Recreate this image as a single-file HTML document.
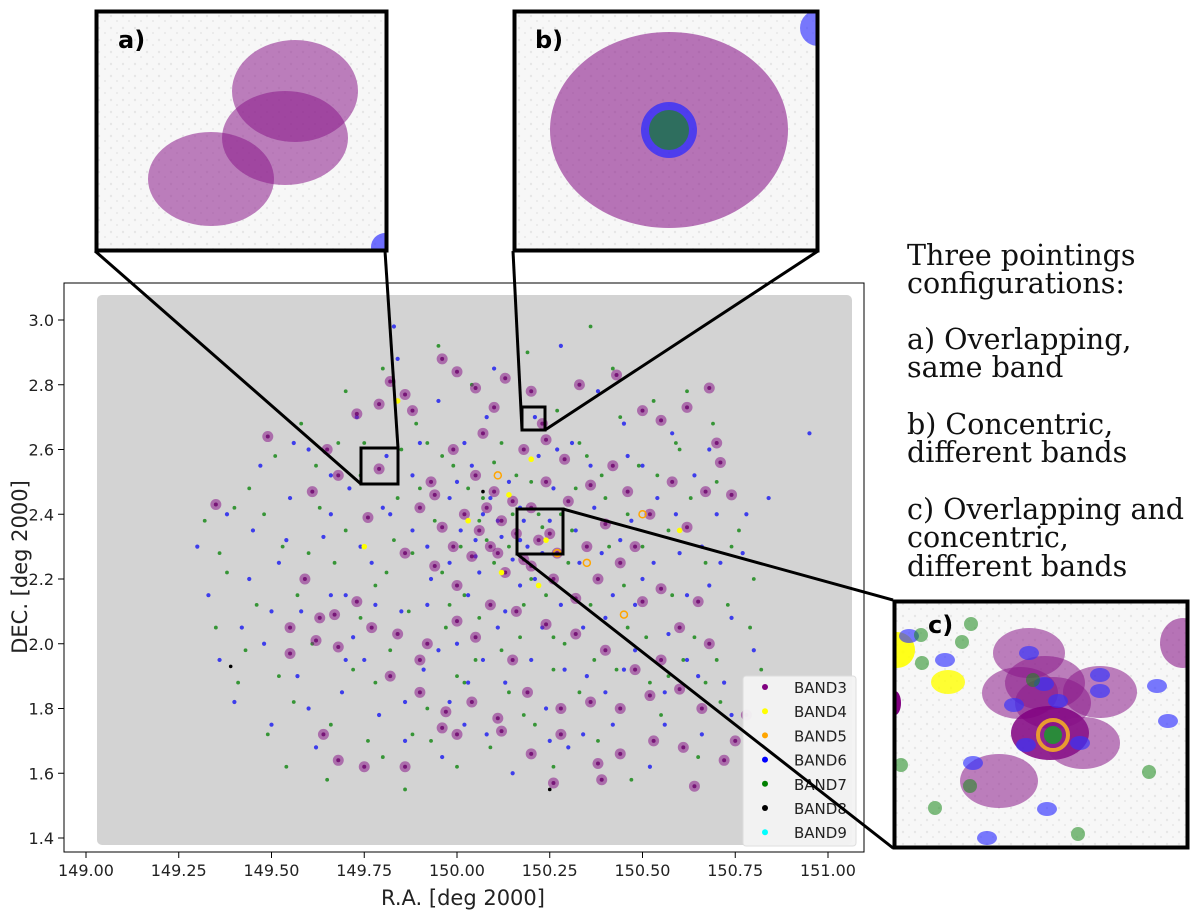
<!DOCTYPE html>
<html><head><meta charset="utf-8"><style>
html,body{margin:0;padding:0;background:#fff}
svg{display:block}
text{font-family:"DejaVu Sans","Liberation Sans",sans-serif}
.serif{font-family:"DejaVu Serif","Liberation Serif",serif;font-size:28.5px;fill:#111}
</style></head><body>
<svg id="fig" width="1200" height="917" viewBox="0 0 1200 917" xmlns="http://www.w3.org/2000/svg">
<defs>
<pattern id="noise" width="12" height="12" patternUnits="userSpaceOnUse">
<rect width="12" height="12" fill="#f7f7f7"/><circle cx="3" cy="4" r="1.2" fill="#e6e6e6"/><circle cx="9" cy="9" r="1" fill="#e8e8e8"/>
</pattern>
<clipPath id="clipA"><rect x="97" y="12" width="288" height="237"/></clipPath>
<clipPath id="clipB"><rect x="515" y="12" width="301" height="237"/></clipPath>
<clipPath id="clipC"><rect x="895" y="602" width="291" height="244"/></clipPath>
</defs>
<rect x="64" y="283" width="800" height="569" fill="#fff" stroke="#000" stroke-width="1"/>
<rect x="97" y="295" width="755" height="550" rx="5" fill="#d3d3d3"/>
<g id="points"></g>
<g id="axes"></g>
<text x="463" y="905" text-anchor="middle" font-size="21" fill="#222">R.A. [deg 2000]</text>
<text transform="translate(27,567) rotate(-90)" text-anchor="middle" font-size="21" fill="#222">DEC. [deg 2000]</text>

<g>
<rect x="743" y="676" width="113" height="170" rx="3" fill="#f4f4f4" stroke="#ddd" opacity="0.95"/>
<g id="legend-items"></g>
</g>

<g stroke="#000" stroke-width="3" fill="none">
<rect x="361" y="448" width="37" height="36"/>
<line x1="95" y1="251" x2="361" y2="484"/><line x1="385" y1="251" x2="398" y2="448"/>
<rect x="522" y="407" width="23" height="23"/>
<line x1="513" y1="251" x2="522" y2="430"/><line x1="818" y1="251" x2="545" y2="430"/>
<rect x="517" y="509" width="46" height="45"/>
<line x1="563" y1="509" x2="893" y2="600"/><line x1="517" y1="554" x2="893" y2="848"/>
</g>

<g>
<rect x="97" y="12" width="288" height="237" fill="url(#noise)"/>
<g clip-path="url(#clipA)">
<ellipse cx="295" cy="91" rx="63" ry="51" fill="#8b1a8b" opacity="0.55"/>
<ellipse cx="285" cy="138" rx="63" ry="47" fill="#8b1a8b" opacity="0.55"/>
<ellipse cx="211" cy="179" rx="63" ry="47" fill="#8b1a8b" opacity="0.55"/>
<circle cx="385" cy="247" r="14" fill="#3333ff" opacity="0.7"/>
</g>
<rect x="96.5" y="11.5" width="290" height="239" fill="none" stroke="#000" stroke-width="4"/>
<text x="118" y="48" font-size="24" font-weight="bold" fill="#000">a)</text>
</g>
<g>
<rect x="515" y="12" width="301" height="237" fill="url(#noise)"/>
<g clip-path="url(#clipB)">
<ellipse cx="669" cy="130" rx="119" ry="98" fill="#8b1a8b" opacity="0.6"/>
<circle cx="669" cy="130" r="28" fill="#2b2bff" opacity="0.75"/>
<circle cx="669" cy="130" r="20" fill="#2e6e5e"/>
<circle cx="818" cy="28" r="18" fill="#3333ff" opacity="0.65"/>
</g>
<rect x="514.5" y="11.5" width="303" height="239" fill="none" stroke="#000" stroke-width="4"/>
<text x="535" y="48" font-size="24" font-weight="bold" fill="#000">b)</text>
</g>
<g>
<rect x="895" y="602" width="291" height="244" fill="url(#noise)"/>
<g clip-path="url(#clipC)">
<circle cx="897" cy="650" r="18" fill="#ffff00" opacity="0.9"/>
<ellipse cx="948" cy="682" rx="17" ry="12" fill="#ffff00" opacity="0.8"/>
<ellipse cx="1029" cy="653" rx="36" ry="25" fill="#8b1a8b" opacity="0.55"/>
<ellipse cx="1045" cy="683" rx="40" ry="27" fill="#8b1a8b" opacity="0.55"/>
<ellipse cx="1020" cy="693" rx="38" ry="26" fill="#8b1a8b" opacity="0.55"/>
<ellipse cx="1100" cy="692" rx="37" ry="26" fill="#8b1a8b" opacity="0.55"/>
<ellipse cx="1053" cy="703" rx="38" ry="26" fill="#8b1a8b" opacity="0.55"/>
<ellipse cx="1050" cy="733" rx="39" ry="27" fill="#800080" opacity="0.85"/>
<ellipse cx="1083" cy="743" rx="37" ry="26" fill="#8b1a8b" opacity="0.55"/>
<ellipse cx="999" cy="781" rx="39" ry="27" fill="#8b1a8b" opacity="0.55"/>
<ellipse cx="1183" cy="643" rx="23" ry="25" fill="#8b1a8b" opacity="0.6"/>
<ellipse cx="895" cy="703" rx="6" ry="12" fill="#800080"/>
<circle cx="1053" cy="735" r="15" fill="none" stroke="#e89b30" stroke-width="4"/>
<circle cx="1053" cy="735" r="9" fill="#2a8a3a"/>
<g fill="#3333ff" opacity="0.65">
<ellipse cx="909" cy="636" rx="10" ry="7"/><ellipse cx="945" cy="660" rx="10" ry="7"/>
<ellipse cx="1029" cy="653" rx="10" ry="7"/><ellipse cx="1044" cy="684" rx="10" ry="7"/>
<ellipse cx="1100" cy="675" rx="10" ry="7"/><ellipse cx="1100" cy="691" rx="10" ry="7"/>
<ellipse cx="1058" cy="701" rx="10" ry="7"/><ellipse cx="1014" cy="705" rx="10" ry="7"/>
<ellipse cx="1026" cy="745" rx="10" ry="7"/><ellipse cx="1080" cy="743" rx="10" ry="7"/>
<ellipse cx="1157" cy="686" rx="10" ry="7"/><ellipse cx="1168" cy="721" rx="10" ry="7"/>
<ellipse cx="973" cy="763" rx="10" ry="7"/><ellipse cx="1047" cy="809" rx="10" ry="7"/>
<ellipse cx="987" cy="838" rx="10" ry="7"/>
</g>
<g fill="#1a8a1a" opacity="0.55">
<circle cx="971" cy="624" r="7"/><circle cx="921" cy="635" r="7"/><circle cx="962" cy="642" r="7"/>
<circle cx="922" cy="663" r="7"/><circle cx="1033" cy="680" r="7"/><circle cx="1149" cy="772" r="7"/>
<circle cx="1078" cy="834" r="7"/><circle cx="901" cy="765" r="7"/><circle cx="935" cy="808" r="7"/>
<circle cx="970" cy="786" r="7"/>
</g>
</g>
<rect x="894.5" y="601.5" width="293" height="246" fill="none" stroke="#000" stroke-width="4"/>
<text x="928" y="633" font-size="24" font-weight="bold" fill="#000">c)</text>
</g>

<g>
<text class="serif" x="907" y="265">Three pointings</text>
<text class="serif" x="907" y="293">configurations:</text>
<text class="serif" x="907" y="349">a) Overlapping,</text>
<text class="serif" x="907" y="377">same band</text>
<text class="serif" x="907" y="434">b) Concentric,</text>
<text class="serif" x="907" y="462">different bands</text>
<text class="serif" x="907" y="519">c) Overlapping and</text>
<text class="serif" x="907" y="547">concentric,</text>
<text class="serif" x="907" y="576">different bands</text>
</g>
</svg>
<script>
const xTicks=[149.00,149.25,149.50,149.75,150.00,150.25,150.50,150.75,151.00];
const yTicks=[1.4,1.6,1.8,2.0,2.2,2.4,2.6,2.8,3.0];
const legendLabels=["BAND3","BAND4","BAND5","BAND6","BAND7","BAND8","BAND9"];
const legendColors=["#800080","#ffff00","#ffa500","#0000ff","#008000","#000000","#00ffff"];
const band3=[[149.35,2.43],[149.49,2.64],[149.59,2.20],[149.63,2.08],[149.55,2.05],[149.67,2.09],[149.73,2.13],[149.61,2.47],[149.68,2.52],[149.76,2.39],[149.79,2.54],[149.82,2.81],[149.86,2.77],[149.79,2.74],[149.73,2.71],[149.90,2.42],[149.93,2.50],[149.96,2.88],[150.00,2.84],[150.05,2.79],[150.10,2.73],[150.13,2.82],[150.20,2.78],[150.23,2.68],[150.33,2.80],[150.43,2.83],[150.50,2.72],[150.55,2.69],[150.62,2.73],[150.68,2.79],[150.70,2.62],[150.67,2.47],[150.71,2.56],[150.74,2.46],[150.52,2.40],[150.46,2.47],[150.42,2.55],[150.36,2.49],[150.29,2.57],[150.24,2.63],[150.18,2.60],[150.07,2.65],[149.99,2.60],[149.94,2.46],[150.02,2.40],[150.06,2.35],[150.09,2.30],[150.12,2.38],[150.15,2.44],[150.20,2.42],[150.25,2.34],[150.22,2.32],[150.18,2.26],[150.13,2.22],[150.04,2.27],[149.99,2.30],[150.35,2.30],[150.38,2.20],[150.44,2.25],[150.50,2.13],[150.55,2.17],[150.60,2.05],[150.65,2.13],[150.68,2.00],[150.55,1.95],[150.48,1.92],[150.40,1.98],[150.32,2.03],[150.24,2.06],[150.16,2.10],[150.09,2.12],[150.00,2.07],[149.92,2.00],[149.84,2.03],[149.77,2.05],[149.68,1.99],[149.62,2.01],[149.55,1.97],[149.82,1.90],[149.90,1.85],[149.97,1.79],[150.04,1.82],[150.11,1.77],[150.19,1.85],[150.28,1.80],[150.36,1.82],[150.44,1.80],[150.52,1.84],[150.60,1.86],[150.66,1.80],[150.61,1.68],[150.53,1.70],[150.44,1.66],[150.38,1.63],[150.28,1.72],[150.20,1.66],[150.12,1.73],[150.00,1.72],[149.96,1.74],[149.86,1.62],[149.75,1.62],[149.68,1.64],[149.64,1.72],[149.90,1.95],[150.26,1.57],[150.39,1.58],[150.64,1.56],[150.72,1.64],[150.75,1.70],[150.78,1.78],[150.05,2.02],[150.15,1.95],[150.30,2.44],[150.40,2.37],[150.48,2.30],[150.62,2.36],[150.58,2.50],[149.88,2.72],[149.65,2.60],[150.00,2.18],[150.10,2.47],[150.27,2.28],[149.96,2.36],[150.05,2.52],[150.08,2.42],[150.16,2.34],[150.20,2.24],[150.24,2.50],[150.11,2.28],[149.86,2.28],[150.32,2.14],[149.94,2.24],[150.26,2.20]];
const band6=[[149.30,2.30],[149.33,2.15],[149.36,1.95],[149.40,1.82],[149.42,2.05],[149.45,2.35],[149.47,2.55],[149.50,1.75],[149.52,2.25],[149.55,2.45],[149.57,1.90],[149.60,2.60],[149.62,1.68],[149.64,2.33],[149.66,2.15],[149.69,1.85],[149.71,2.48],[149.73,2.70],[149.75,1.95],[149.77,2.25],[149.79,1.78],[149.81,2.58],[149.83,2.98],[149.85,2.10],[149.86,1.70],[149.88,2.35],[149.90,2.62],[149.91,1.92],[149.93,2.20],[149.95,2.75],[149.96,1.65],[149.98,2.45],[150.00,2.00],[150.01,2.35],[150.03,1.88],[150.04,2.55],[150.06,2.22],[150.07,2.40],[150.08,1.72],[150.10,2.85],[150.11,2.05],[150.12,2.33],[150.14,2.50],[150.15,1.60],[150.17,2.18],[150.18,2.38],[150.20,1.95],[150.21,2.70],[150.23,2.28],[150.24,1.80],[150.26,2.48],[150.28,2.12],[150.30,1.68],[150.31,2.62],[150.33,2.25],[150.35,1.90],[150.37,2.42],[150.38,2.78],[150.40,2.08],[150.42,1.75],[150.44,2.32],[150.46,2.58],[150.48,1.98],[150.50,2.20],[150.52,1.62],[150.54,2.45],[150.56,1.85],[150.58,2.65],[150.60,2.28],[150.62,1.95],[150.64,2.52],[150.66,1.72],[150.68,2.18],[150.70,2.40],[150.72,1.88],[150.74,2.08],[150.77,2.28],[150.80,1.98],[150.95,2.65],[150.84,2.45],[149.48,2.00],[149.58,2.10],[149.72,2.02],[149.80,2.42],[149.92,2.12],[150.02,2.62],[150.13,1.88],[150.22,2.58],[150.34,1.72],[150.45,2.68],[150.57,2.03],[150.66,2.30],[149.66,2.40],[149.98,1.82],[150.28,2.92],[150.08,2.70],[149.84,2.88],[150.48,2.12],[150.17,2.32],[150.05,2.27],[149.38,2.40],[149.44,2.20],[149.50,2.10],[149.54,2.32],[149.60,1.80],[149.66,2.52],[149.70,1.95],[149.74,2.30],[149.78,2.12],[149.82,2.40],[149.86,1.82],[149.88,2.52],[149.92,2.30],[149.95,1.98],[149.98,2.25],[150.00,2.50],[150.03,2.15],[150.05,2.32],[150.07,1.95],[150.09,2.45],[150.11,2.38],[150.13,2.10],[150.15,2.26],[150.17,2.42],[150.19,2.30],[150.21,2.20],[150.23,2.05],[150.25,2.38],[150.27,2.60],[150.29,1.92],[150.32,2.35],[150.34,2.05],[150.36,2.55],[150.39,2.28],[150.42,2.15],[150.45,1.92],[150.47,2.38],[150.50,2.55],[150.53,2.25],[150.56,1.75],[150.59,2.40],[150.62,2.15],[150.65,1.90],[150.68,2.60],[150.71,2.25],[150.74,1.78],[150.78,2.40],[149.70,2.15],[149.56,2.62],[150.02,1.75],[150.25,1.70],[150.40,1.85]];
const band7=[[149.32,2.38],[149.35,2.05],[149.38,2.22],[149.41,1.88],[149.44,2.48],[149.46,2.12],[149.49,1.72],[149.51,2.58],[149.53,2.30],[149.56,1.82],[149.58,2.68],[149.61,2.00],[149.63,2.42],[149.65,1.58],[149.67,2.25],[149.70,2.78],[149.72,1.92],[149.74,2.52],[149.76,1.70],[149.78,2.18],[149.80,2.85],[149.82,1.98],[149.84,2.45],[149.86,1.55],[149.88,2.28],[149.89,2.68],[149.92,1.80],[149.94,2.38],[149.95,2.92],[149.97,2.05],[149.99,2.55],[150.00,1.62],[150.02,2.15],[150.04,2.80],[150.05,1.95],[150.07,2.45],[150.09,1.68],[150.10,2.25],[150.12,2.62],[150.14,1.85],[150.16,2.52],[150.17,2.02],[150.19,2.90],[150.21,1.75],[150.22,2.40],[150.24,2.15],[150.26,1.62],[150.27,2.72],[150.29,2.00],[150.31,2.35],[150.33,1.85],[150.35,2.58],[150.36,2.12],[150.38,1.70],[150.40,2.45],[150.42,2.85],[150.43,1.92],[150.45,2.18],[150.47,1.58],[150.49,2.55],[150.51,2.02],[150.53,2.75],[150.55,1.78],[150.57,2.35],[150.59,2.62],[150.61,1.95],[150.63,2.45],[150.65,1.65],[150.67,2.25],[150.69,2.68],[150.71,1.82],[150.73,2.12],[150.76,2.35],[150.79,2.05],[150.82,1.92],[149.40,2.42],[149.54,1.62],[149.68,2.62],[149.83,2.32],[149.96,2.22],[150.06,2.38],[150.14,2.30],[150.20,2.20],[150.32,2.48],[150.46,2.40],[150.58,2.15],[150.70,1.95],[149.74,2.08],[149.88,1.72],[150.02,1.88],[150.26,1.92],[150.52,1.88],[150.36,2.98],[149.60,2.28],[150.62,2.78],[149.92,2.62],[149.36,2.28],[149.43,1.98],[149.48,2.40],[149.52,1.90],[149.57,2.15],[149.62,2.55],[149.66,1.75],[149.70,2.35],[149.75,2.62],[149.78,1.88],[149.81,2.22],[149.85,2.60],[149.87,2.10],[149.90,2.48],[149.93,1.70],[149.96,2.58],[149.98,2.12],[150.01,2.30],[150.03,2.48],[150.06,2.08],[150.08,2.32],[150.10,2.56],[150.12,1.98],[150.15,2.40],[150.18,2.12],[150.20,2.50],[150.23,2.36],[150.26,2.02],[150.28,2.40],[150.30,2.25],[150.33,2.62],[150.37,1.95],[150.39,2.52],[150.41,2.30],[150.44,2.70],[150.46,2.05],[150.50,2.30],[150.54,2.52],[150.57,1.90],[150.60,2.60],[150.64,2.02],[150.67,1.88],[150.70,2.50],[150.74,2.30],[150.80,2.20],[150.00,1.90],[150.18,1.78],[149.80,1.65]];
const band4=[[150.03,2.38],[150.20,2.57],[149.84,2.75],[150.22,2.18],[149.75,2.30],[150.60,2.35],[150.12,2.22],[150.14,2.46],[150.24,2.32]];
const band5=[[150.45,2.09],[150.11,2.52],[150.35,2.25],[150.50,2.40],[150.27,2.28]];
const band8=[[149.39,1.93],[150.25,1.55],[150.07,2.47]];
const X0=149,X1=151,PX0=86,PX1=828;
const Y0=1.4,Y1=3.0,PY0=838,PY1=320;
function sx(v){return PX0+(v-X0)/(X1-X0)*(PX1-PX0);}
function sy(v){return PY0+(v-Y0)/(Y1-Y0)*(PY1-PY0);}
const NS='http://www.w3.org/2000/svg';
function mk(tag,attrs,parent){const e=document.createElementNS(NS,tag);for(const k in attrs)e.setAttribute(k,attrs[k]);parent.appendChild(e);return e;}
const pts=document.getElementById('points');
band7.forEach(p=>{const c=mk('circle',{cx:sx(p[0]),cy:sy(p[1]),r:1.9,fill:'#1a8a1a',opacity:0.85},pts);

});
band6.forEach(p=>{const c=mk('circle',{cx:sx(p[0]),cy:sy(p[1]),r:2.1,fill:'#2222ee',opacity:0.85},pts);

});
band3.forEach(p=>{const c=mk('circle',{cx:sx(p[0]),cy:sy(p[1]),r:5.5,fill:'#8b1a8b',opacity:0.55},pts);


mk('circle',{cx:sx(p[0]),cy:sy(p[1]),r:2,fill:'#6a006a',opacity:0.8},pts);});
band4.forEach(p=>{const c=mk('circle',{cx:sx(p[0]),cy:sy(p[1]),r:2.8,fill:'#ffff00'},pts);

});
band5.forEach(p=>{const c=mk('circle',{cx:sx(p[0]),cy:sy(p[1]),r:3.5,fill:'none',stroke:'#ffa500','stroke-width':1.5},pts);

});
band8.forEach(p=>{const c=mk('circle',{cx:sx(p[0]),cy:sy(p[1]),r:1.8,fill:'#000'},pts);

});
const ax=document.getElementById('axes');
xTicks.forEach(v=>{const x=sx(v);
mk('line',{x1:x,y1:852,x2:x,y2:858,stroke:'#000'},ax);
const t=mk('text',{x:x,y:876,'text-anchor':'middle','font-size':16,fill:'#222'},ax);t.textContent=v.toFixed(2);

});
yTicks.forEach(v=>{const y=sy(v);
mk('line',{x1:58,y1:y,x2:64,y2:y,stroke:'#000'},ax);
const t=mk('text',{x:54,y:y+6,'text-anchor':'end','font-size':16,fill:'#222'},ax);t.textContent=v.toFixed(1);

});
const lg=document.getElementById('legend-items');
legendLabels.forEach((l,i)=>{const y=687+i*24.2;
mk('circle',{cx:765,cy:y,r:3,fill:legendColors[i]},lg);
const t=mk('text',{x:794,y:y+6,'font-size':15,fill:'#222'},lg);t.textContent=l;

});
</script>
</body></html>
